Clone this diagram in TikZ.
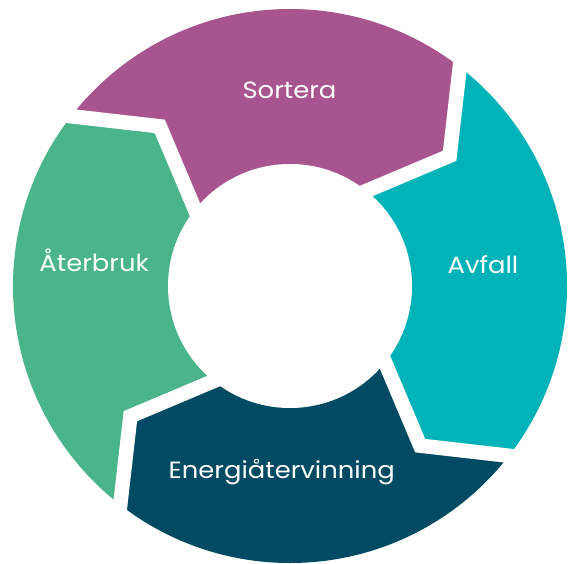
\documentclass[tikz,border=0pt]{standalone}
\usepackage{fontspec}
\setmainfont[FakeStretch=1.1]{Poppins}
\usetikzlibrary{calc}
\definecolor{sortc}{HTML}{A8558F}
\definecolor{avfc}{HTML}{00B3B9}
\definecolor{enec}{HTML}{004A63}
\definecolor{aterc}{HTML}{4AB48A}
\newcommand{\Ro}{277}
\newcommand{\Rm}{206}
\newcommand{\Ri}{122}
\newcommand{\ringseg}[2]{%
  \fill[#1] (C) -- ($(C)+(#2-1:\Ri)$) -- ($(C)+(#2-13:\Rm)$) -- ($(C)+(#2:\Ro)$)
    -- ($(C)+(#2:400)$) -- ($(C)+(#2-45:460)$) -- ($(C)+(#2-90:400)$)
    -- ($(C)+(#2-90:\Ro)$) -- ($(C)+(#2-103:\Rm)$) -- ($(C)+(#2-91:\Ri)$) -- cycle;}
\tikzset{
  lbl/.style={text=white, font=\fontsize{23.5}{28}\selectfont, anchor=base, inner sep=0pt},
  gapline/.style={white, line width=14.5pt, line join=miter}
}
\begin{document}
\begin{tikzpicture}[x=1pt,y=1pt]
\useasboundingbox (0,0) rectangle (569,563);
\coordinate (C) at (290,277);
\begin{scope}
  \clip (C) circle (\Ro);
  \ringseg{sortc}{142.2}
  \ringseg{avfc}{52.2}
  \ringseg{enec}{-37.8}
  \ringseg{aterc}{-127.8}
\end{scope}
\foreach \b in {52.2,-37.8,-127.8,142.2}{
  \coordinate (O) at ($(C)+(\b:\Ro)$);
  \coordinate (M) at ($(C)+(\b-13:\Rm)$);
  \coordinate (I) at ($(C)+(\b-1:\Ri)$);
  \draw[gapline] ($(M)!1.6!(O)$) -- (M) -- ($(M)!1.5!(I)$);
}
\fill[white] (C) circle (\Ri);
\node[lbl] (sortera) at (289.5,464.7) {Sortera};
\node[lbl] (avfall) at (483,289.7) {Avfall};
\node[lbl] (energi) at (281.7,84.7) {Energiåtervinning};
\node[lbl] (aterbruk) at (94.2,291.3) {Återbruk};
\end{tikzpicture}
\end{document}
